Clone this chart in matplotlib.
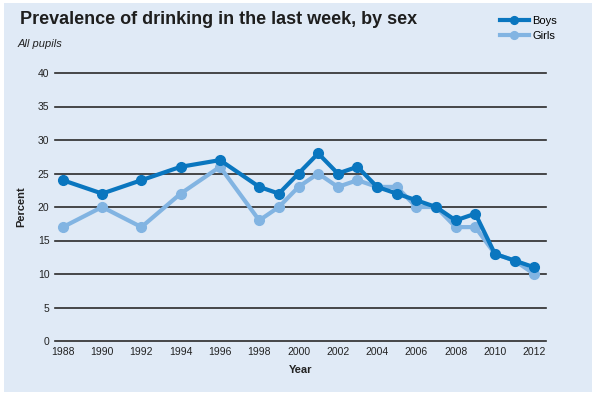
import matplotlib
matplotlib.use("Agg")
import matplotlib.pyplot as plt
from matplotlib.patches import Rectangle

# data
years = [1988, 1990, 1992, 1994, 1996, 1998, 1999, 2000, 2001, 2002,
         2003, 2004, 2005, 2006, 2007, 2008, 2009, 2010, 2011, 2012]
boys = [24, 22, 24, 26, 27, 23, 22, 25, 28, 25,
        26, 23, 22, 21, 20, 18, 19, 13, 12, 11]
girls = [17, 20, 17, 22, 26, 18, 20, 23, 25, 23,
         24, 23, 23, 20, 20, 17, 17, 13, 12, 10]
x_ticks = list(range(1988, 2013, 2))
y_ticks = list(range(0, 41, 5))

boys_color = "#0a76bf"
girls_color = "#82b4e2"
bg_color = "#e0eaf6"

plt.rcParams["font.family"] = ["Liberation Sans", "DejaVu Sans"]

fig = plt.figure(figsize=(5.96, 3.97), dpi=100)
fig.patch.set_facecolor("white")
# light blue panel behind everything
fig.patches.append(Rectangle((4 / 596, 5 / 397), 588 / 596, 389 / 397,
                             transform=fig.transFigure, facecolor=bg_color,
                             edgecolor="none", zorder=-10))

ax = fig.add_axes([55 / 596, 1 - 341 / 397, 491 / 596, 268 / 397])
ax.set_facecolor("none")

for y in y_ticks:
    ax.axhline(y, color="#2b2b2b", lw=1.2, zorder=1, clip_on=False)

ax.plot(years, girls, color=girls_color, lw=3, marker="o", ms=7,
        label="Girls", zorder=2, clip_on=False)
ax.plot(years, boys, color=boys_color, lw=3, marker="o", ms=7,
        label="Boys", zorder=3, clip_on=False)

ax.set_xlim(1987.6, 2012.6)
ax.set_ylim(0, 40)
ax.set_xticks(x_ticks)
ax.set_yticks(y_ticks)
ax.tick_params(length=0, labelsize=7.5, colors="#222222", pad=4)
for s in ax.spines.values():
    s.set_visible(False)

ax.set_xlabel("Year", fontsize=8, fontweight="bold", color="#222222", labelpad=6)
ax.set_ylabel("Percent", fontsize=8, fontweight="bold", color="#222222", labelpad=8)

fig.text(20 / 596, 1 - 20 / 397, "Prevalence of drinking in the last week, by sex",
         fontsize=13, fontweight="heavy", color="#1e1e1e", va="center")
fig.text(18 / 596, 1 - 44 / 397, "All pupils", fontsize=8, style="italic",
         color="#222222", va="center")

# legend, top right
handles, labels = ax.get_legend_handles_labels()
fig.legend(handles[::-1], labels[::-1], loc="upper left",
           bbox_to_anchor=(490 / 596, 1 - 6 / 397), frameon=False,
           fontsize=8, handlelength=2.6, handletextpad=0.3, labelspacing=0.45,
           markerscale=0.8)

plt.savefig("out.png", dpi=100, facecolor=fig.get_facecolor())
plt.close()
